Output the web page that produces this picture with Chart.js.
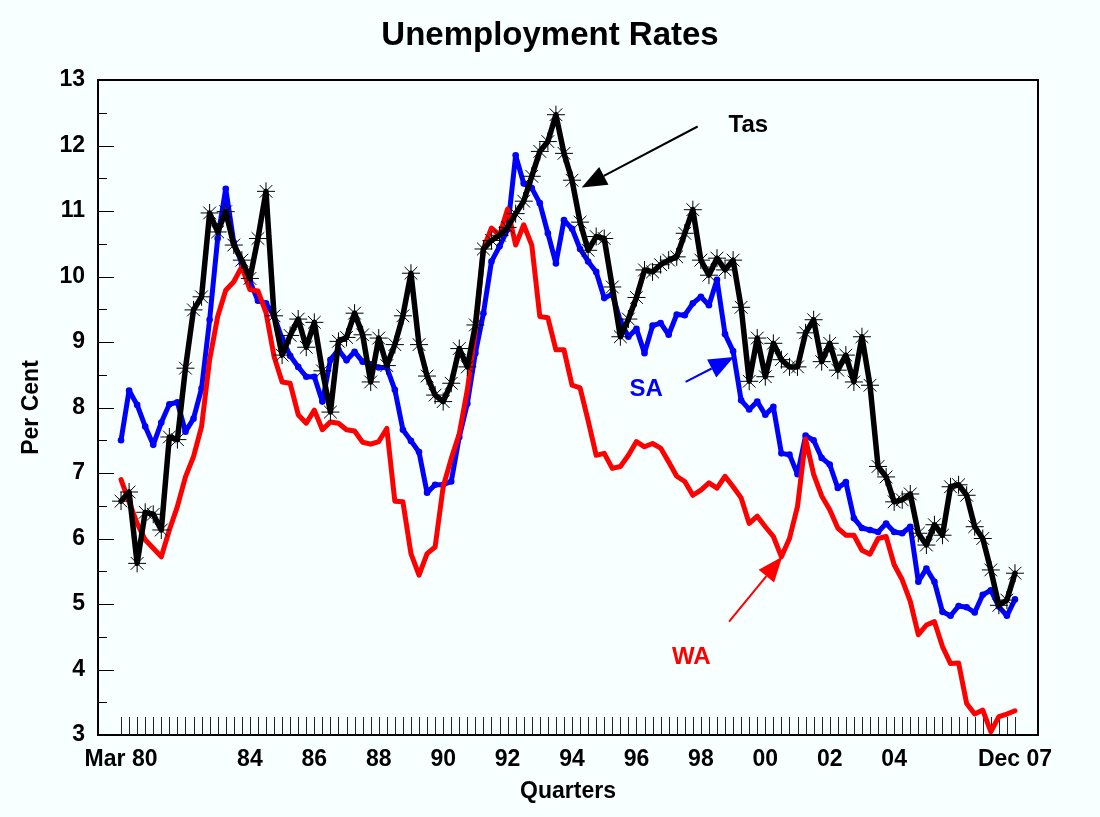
<!DOCTYPE html>
<html>
<head>
<meta charset="utf-8">
<script src="https://cdn.jsdelivr.net/npm/chart.js@4.4.1/dist/chart.umd.min.js"></script>
<style>
  html, body { margin: 0; padding: 0; background: #f7ffff; }
</style>
</head>
<body>
<canvas id="mycanvas" width="1100" height="817"></canvas>
<script>
// quarterly rates, Mar 1980 .. Dec 2007 (112 quarters)
var wa = [6.90, 6.56, 6.23, 5.98, 5.85, 5.72, 6.13, 6.49, 6.94, 7.25, 7.71, 8.73, 9.39, 9.79, 9.92, 10.15,
          9.80, 9.78, 9.45, 8.78, 8.39, 8.37, 7.89, 7.76, 7.96, 7.66, 7.78, 7.76, 7.66, 7.64, 7.47, 7.44,
          7.48, 7.68, 6.57, 6.56, 5.77, 5.44, 5.77, 5.87, 6.79, 7.22, 7.60, 8.27, 9.16, 10.43, 10.74, 10.63,
          11.03, 10.48, 10.79, 10.48, 9.39, 9.37, 8.88, 8.88, 8.34, 8.30, 7.80, 7.27, 7.30, 7.07, 7.10, 7.27,
          7.48, 7.40, 7.45, 7.38, 7.17, 6.95, 6.87, 6.66, 6.74, 6.85, 6.77, 6.95, 6.79, 6.62, 6.23, 6.34,
          6.18, 6.03, 5.72, 6.00, 6.49, 7.52, 6.98, 6.65, 6.44, 6.16, 6.05, 6.05, 5.82, 5.76, 6.00, 6.03,
          5.60, 5.37, 5.04, 4.53, 4.68, 4.73, 4.35, 4.09, 4.10, 3.48, 3.32, 3.38, 3.05, 3.28, 3.32, 3.37];

var sa = [7.50, 8.26, 8.04, 7.71, 7.43, 7.77, 8.05, 8.08, 7.63, 7.83, 8.29, 9.34, 10.58, 11.34, 10.52, 10.20,
          9.93, 9.63, 9.59, 9.40, 9.05, 8.79, 8.62, 8.47, 8.47, 8.09, 8.73, 8.88, 8.72, 8.85, 8.70, 8.66,
          8.61, 8.61, 8.27, 7.66, 7.49, 7.32, 6.70, 6.82, 6.82, 6.87, 7.55, 8.06, 8.83, 9.44, 10.23, 10.46,
          10.72, 11.85, 11.42, 11.35, 11.12, 10.66, 10.20, 10.86, 10.73, 10.42, 10.23, 10.07, 9.67, 9.73, 9.32, 9.08,
          9.20, 8.83, 9.25, 9.29, 9.11, 9.42, 9.41, 9.59, 9.69, 9.56, 9.95, 9.12, 8.86, 8.11, 7.97, 8.09,
          7.89, 8.01, 7.30, 7.28, 6.98, 7.57, 7.50, 7.23, 7.13, 6.77, 6.86, 6.31, 6.16, 6.13, 6.10, 6.23,
          6.10, 6.08, 6.18, 5.34, 5.54, 5.34, 4.88, 4.82, 4.97, 4.95, 4.87, 5.14, 5.21, 4.96, 4.82, 5.07];

var tas = [6.57, 6.71, 5.62, 6.40, 6.37, 6.13, 7.55, 7.51, 8.60, 9.49, 9.69, 10.97, 10.68, 10.99, 10.48, 10.25,
           9.97, 10.58, 11.30, 9.40, 8.80, 9.10, 9.35, 8.92, 9.30, 8.56, 7.93, 9.01, 9.07, 9.44, 9.11, 8.39,
           9.06, 8.64, 8.96, 9.40, 10.05, 8.96, 8.48, 8.19, 8.09, 8.37, 8.90, 8.62, 9.26, 10.42, 10.55, 10.63,
           10.75, 10.96, 11.15, 11.53, 11.91, 12.06, 12.47, 11.88, 11.47, 10.83, 10.40, 10.61, 10.58, 9.84, 9.08, 9.35,
           9.68, 10.10, 10.07, 10.18, 10.25, 10.30, 10.66, 11.02, 10.25, 10.02, 10.28, 10.10, 10.25, 9.53, 8.40, 9.06,
           8.47, 8.98, 8.73, 8.62, 8.62, 9.14, 9.34, 8.70, 8.98, 8.57, 8.80, 8.39, 9.08, 8.34, 7.10, 6.94,
           6.56, 6.59, 6.68, 6.08, 5.90, 6.21, 6.05, 6.79, 6.82, 6.66, 6.18, 6.00, 5.52, 4.98, 5.06, 5.47];

// x tick labels (quarter index -> text)
var tickPos  = [0, 16, 24, 32, 40, 48, 56, 64, 72, 80, 88, 96, 111];
var tickText = ['Mar 80', '84', '86', '88', '90', '92', '94', '96', '98', '00', '02', '04', 'Dec 07'];

// arrow notes in data units: label at (lx,ly), arrow from (x0,y0) to tip (x1,y1)
var notes = [
  { text: 'Tas', color: '#000000', lx: 77.9, ly: 12.31, x0: 71.6, y0: 12.29, x1: 57.2, y1: 11.36 },
  { text: 'SA',  color: '#0000ff', lx: 65.2, ly: 8.27,  x0: 70.1, y0: 8.39,  x1: 76.1, y1: 8.77 },
  { text: 'WA',  color: '#ff0000', lx: 70.8, ly: 4.19,  x0: 75.5, y0: 4.73,  x1: 82.1, y1: 5.72 }
];

var FONT = 'Arial, "Liberation Sans", Helvetica, sans-serif';

function pts(arr) {
  return arr.map(function(v, i) { return { x: i, y: v }; });
}

var decor = {
  id: 'decor',
  beforeDraw: function(chart) {
    var c = chart.ctx;
    c.save();
    c.fillStyle = '#f7ffff';
    c.fillRect(0, 0, chart.width, chart.height);
    c.restore();
  },
  beforeDatasetsDraw: function(chart) {
    var c = chart.ctx, a = chart.chartArea, xs = chart.scales.x, ys = chart.scales.y;
    c.save();
    c.strokeStyle = '#222';
    c.lineWidth = 1;
    for (var i = 0; i < tas.length; i++) {
      var px = Math.round(xs.getPixelForValue(i)) + 0.5;
      c.beginPath();
      c.moveTo(px, a.bottom);
      c.lineTo(px, a.bottom - 18);
      c.stroke();
    }
    c.strokeStyle = '#000';
    for (var v = 3.5; v < 13; v += 0.5) {
      var py = Math.round(ys.getPixelForValue(v)) + 0.5;
      var len = (v % 1 === 0) ? 16 : 9;
      c.beginPath();
      c.moveTo(a.left, py);
      c.lineTo(a.left + len, py);
      c.stroke();
    }
    c.lineWidth = 2;
    c.strokeRect(a.left, a.top, a.right - a.left, a.bottom - a.top);
    c.restore();
  },
  afterDatasetsDraw: function(chart) {
    var c = chart.ctx, xs = chart.scales.x, ys = chart.scales.y;
    c.save();
    notes.forEach(function(n) {
      var x0 = xs.getPixelForValue(n.x0), y0 = ys.getPixelForValue(n.y0);
      var x1 = xs.getPixelForValue(n.x1), y1 = ys.getPixelForValue(n.y1);
      var ang = Math.atan2(y1 - y0, x1 - x0);
      var hl = 25, hw = 10;
      var bx = x1 - hl * Math.cos(ang), by = y1 - hl * Math.sin(ang);
      c.strokeStyle = n.color;
      c.fillStyle = n.color;
      c.lineWidth = 2;
      c.beginPath();
      c.moveTo(x0, y0);
      c.lineTo(bx, by);
      c.stroke();
      c.beginPath();
      c.moveTo(x1, y1);
      c.lineTo(bx + hw * Math.sin(ang), by - hw * Math.cos(ang));
      c.lineTo(bx - hw * Math.sin(ang), by + hw * Math.cos(ang));
      c.closePath();
      c.fill();
      c.font = 'bold 24px ' + FONT;
      c.textAlign = 'center';
      c.textBaseline = 'middle';
      c.fillText(n.text, xs.getPixelForValue(n.lx), ys.getPixelForValue(n.ly));
    });
    c.restore();
  }
};

var ctx = document.getElementById('mycanvas');

var chart = new Chart(ctx, {
  type: 'line',
  data: {
    datasets: [
      {
        label: 'Tas',
        data: pts(tas),
        borderColor: '#000000',
        backgroundColor: '#000000',
        borderWidth: 5.5,
        pointStyle: 'star',
        pointRadius: 9,
        pointBorderWidth: 1,
        pointBorderColor: '#000000'
      },
      {
        label: 'WA',
        data: pts(wa),
        borderColor: '#ff0000',
        backgroundColor: '#ff0000',
        borderWidth: 5,
        pointRadius: 0
      },
      {
        label: 'SA',
        data: pts(sa),
        borderColor: '#0000ff',
        backgroundColor: '#0000ff',
        borderWidth: 5,
        pointStyle: 'circle',
        pointRadius: 3.3,
        pointBorderWidth: 0
      }
    ]
  },
  options: {
    responsive: false,
    animation: false,
    events: [],
    layout: { padding: 0 },
    elements: {
      line: { tension: 0, borderJoinStyle: 'round', borderCapStyle: 'round' }
    },
    plugins: {
      legend: { display: false },
      tooltip: { enabled: false },
      title: {
        display: true,
        text: 'Unemployment Rates',
        color: '#000',
        font: { family: FONT, size: 33, weight: 'bold', lineHeight: 1.2 },
        padding: { top: 16.2, bottom: 24.2 }
      }
    },
    scales: {
      x: {
        type: 'linear',
        position: 'bottom',
        min: -2.86,
        max: 113.86,
        afterBuildTicks: function(s) {
          s.ticks = tickPos.map(function(v) { return { value: v }; });
        },
        afterFit: function(s) { s.height = 82; },
        grid: { display: false, drawTicks: false },
        border: { display: false },
        ticks: {
          autoSkip: false,
          maxRotation: 0,
          padding: 11,
          color: '#000',
          font: { family: FONT, size: 23, weight: 'bold', lineHeight: 1.2 },
          callback: function(v) {
            var k = tickPos.indexOf(v);
            return k < 0 ? '' : tickText[k];
          }
        },
        title: {
          display: true,
          text: 'Quarters',
          color: '#000',
          font: { family: FONT, size: 23, weight: 'bold', lineHeight: 1.2 },
          padding: { top: 0, bottom: 11.2 }
        }
      },
      y: {
        position: 'left',
        min: 3,
        max: 13,
        afterFit: function(s) { s.width = 98; },
        grid: { display: false, drawTicks: false },
        border: { display: false },
        ticks: {
          stepSize: 1,
          padding: 13,
          color: '#000',
          font: { family: FONT, size: 23, weight: 'bold', lineHeight: 1.2 }
        },
        title: {
          display: true,
          text: 'Per Cent',
          color: '#000',
          font: { family: FONT, size: 23, weight: 'bold', lineHeight: 1.2 },
          padding: { top: 18.2, bottom: 0 }
        }
      },
      spare: {
        position: 'right',
        display: true,
        afterFit: function(s) { s.width = 62; },
        grid: { display: false, drawTicks: false },
        border: { display: false },
        ticks: { display: false }
      }
    }
  },
  plugins: [decor]
});
</script>
</body>
</html>
